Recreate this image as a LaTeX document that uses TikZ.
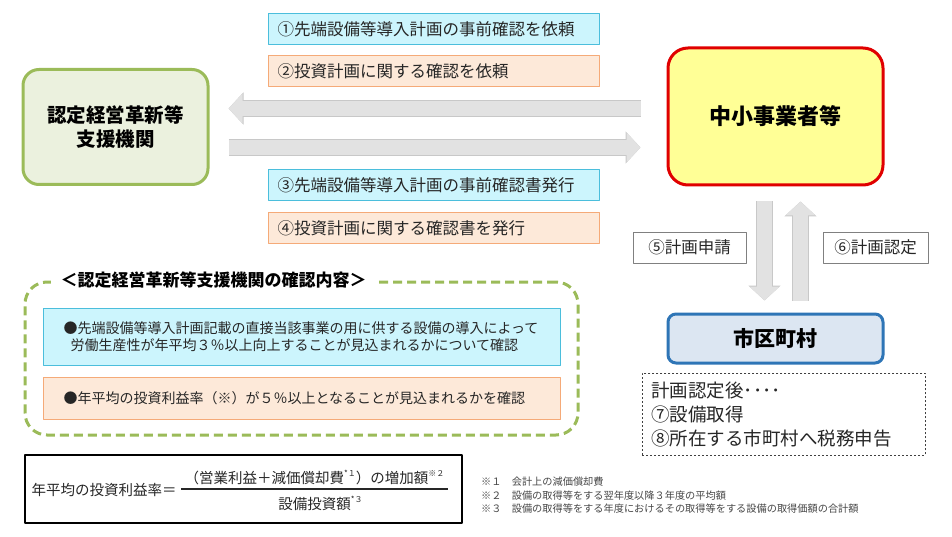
\documentclass[tikz,border=0pt]{standalone}
\usepackage{fontspec}
\setmainfont{Noto Sans CJK JP}
\usetikzlibrary{arrows.meta}
\usetikzlibrary{positioning}
\usetikzlibrary{calc}
\definecolor{agentgreen}{RGB}{155,187,89}
\definecolor{agentfill}{RGB}{235,241,222}
\definecolor{smered}{RGB}{224,0,0}
\definecolor{smefill}{RGB}{255,255,150}
\definecolor{cyanfill}{RGB}{204,245,253}
\definecolor{cyanline}{RGB}{75,190,220}
\definecolor{peachfill}{RGB}{253,233,217}
\definecolor{peachline}{RGB}{245,170,120}
\definecolor{arrowgray}{RGB}{226,226,226}
\definecolor{arrowedge}{RGB}{200,200,200}
\definecolor{cityfill}{RGB}{220,230,242}
\definecolor{cityline}{RGB}{46,117,182}
\definecolor{textgray}{RGB}{38,38,38}
\definecolor{notegray}{RGB}{70,70,70}
\newcommand\noteup[1]{\raisebox{0.45em}{\fontsize{8}{8}\selectfont #1}}

\begin{document}
\begin{tikzpicture}[x=1pt,y=-1pt,line join=round,
  party/.style={rounded corners=16pt,line width=3pt,align=center,inner sep=0pt,
    font=\fontsize{19.5}{24}\selectfont\bfseries},
  stepnote/.style={anchor=west,text width=313pt,inner xsep=9pt,inner ysep=0pt,
    minimum height=31pt,align=left,line width=1pt,text=textgray,
    font=\fontsize{16.5}{18}\selectfont},
  bluenote/.style={stepnote,draw=cyanline,fill=cyanfill},
  orangenote/.style={stepnote,draw=peachline,fill=peachfill},
  plainnote/.style={draw=gray,line width=0.8pt,minimum height=31pt,inner xsep=6pt,
    text=textgray,font=\fontsize{16.5}{18}\selectfont},
  checkitem/.style={anchor=north west,line width=1pt,minimum width=517pt,text width=477pt,
    inner xsep=20pt,align=left,text=textgray,font=\fontsize{14}{17}\selectfont},
  blockarrow/.style={arrowgray,line width=15pt,-{Triangle[length=14pt,width=29pt]},
    preaction={draw=arrowedge,line width=16.5pt,-{Triangle[length=15pt,width=31.5pt]}}}]
\useasboundingbox (0,0) rectangle (952,537);

% the two parties and the city
\node[party,draw=agentgreen,fill=agentfill,minimum width=185pt,minimum height=115pt] (agent) at (115.5,127) {認定経営革新等\\支援機関};
\node[party,draw=smered,fill=smefill,rounded corners=20pt,minimum width=215pt,minimum height=137pt,
  font=\fontsize{22}{24}\selectfont\bfseries] (sme) at (775.5,116.5) {中小事業者等};
\node[party,draw=cityline,fill=cityfill,rounded corners=8pt,minimum width=215pt,minimum height=49pt,
  font=\fontsize{21}{24}\selectfont\bfseries] (city) at (775.5,338.5) {市区町村};

% requests and answers
\node[bluenote] (req1) at (268,29.5) {①先端設備等導入計画の事前確認を依頼};
\node[orangenote,below=10pt of req1] (req2) {②投資計画に関する確認を依頼};
\node[bluenote] (iss3) at (268,185) {③先端設備等導入計画の事前確認書発行};
\node[orangenote,below=11pt of iss3] (iss4) {④投資計画に関する確認書を発行};

\draw[blockarrow] ($(sme.west |- 0,108.5)+(-26pt,0pt)$) -- ($(agent.east |- 0,108.5)+(19pt,0pt)$);
\draw[blockarrow] ($(agent.east |- 0,147.5)+(19pt,0pt)$) -- ($(sme.west |- 0,147.5)+(-26pt,0pt)$);

% plan application
\draw[blockarrow] ($(sme.south -| 764.5,0)+(0pt,-15pt)$) -- ($(city.north -| 764.5,0)+(0pt,12pt)$);
\draw[blockarrow] ($(city.north -| 800.5,0)+(0pt,12pt)$) -- ($(sme.south -| 800.5,0)+(0pt,-15pt)$);
\node[plainnote,minimum width=113pt] (apply) at (689.5,247.5) {⑤計画申請};
\node[plainnote,minimum width=105pt] (approve) at (875.5,247.5) {⑥計画認定};

\node[draw=darkgray,dash pattern=on 2pt off 2pt,line width=0.8pt,anchor=north west,text width=265pt,
  inner xsep=9pt,inner ysep=5pt,minimum height=82pt,align=left,text=textgray,
  font=\fontsize{18.5}{24}\selectfont] (after) at (642,373) {計画認定後････\\⑦設備取得\\⑧所在する市町村へ税務申告};

% what the agent checks
\node[draw=agentgreen,line width=3pt,dash pattern=on 9pt off 5pt,rounded corners=22pt,
  minimum width=553pt,minimum height=153pt] (checks) at (301.5,358.5) {};
\node[fill=white,inner xsep=10pt,inner ysep=2pt,anchor=west,font=\fontsize{17}{20}\selectfont\bfseries]
  (checkstitle) at ([xshift=27pt]checks.north west) {＜認定経営革新等支援機関の確認内容＞};
\node[checkitem,draw=cyanline,fill=cyanfill,minimum height=57pt] (check1) at (43,308)
  {●先端設備等導入計画記載の直接当該事業の用に供する設備の導入によって\\\hspace*{0.5em}労働生産性が年平均３％以上向上することが見込まれるかについて確認};
\node[checkitem,draw=peachline,fill=peachfill,minimum height=42pt] (check2) at (43,377)
  {●年平均の投資利益率（※）が５％以上となることが見込まれるかを確認};

% formula
\node[draw=black,line width=1.8pt,minimum width=437pt,minimum height=68pt] (formula) at (243.5,489) {};
\node[anchor=west,text=textgray,font=\fontsize{14.5}{16}\selectfont] (ratio) at (28,490) {年平均の投資利益率＝};
\node[anchor=south,minimum width=265pt,inner ysep=4pt,text=textgray,font=\fontsize{14.5}{16}\selectfont]
  (numer) at (314.5,489) {（営業利益＋減価償却費\noteup{*１}）の増加額\noteup{※２}};
\node[below=3pt of numer,xshift=6pt,inner ysep=4pt,text=textgray,font=\fontsize{14.5}{16}\selectfont]
  (denom) {設備投資額\noteup{*３}};
\draw[line width=1.2pt,textgray] (numer.south west) -- (numer.south east);

\node[anchor=north west,align=left,inner sep=0pt,text=notegray,font=\fontsize{10.2}{13.5}\selectfont]
  (notes) at (481,477) {※１　会計上の減価償却費\\※２　設備の取得等をする翌年度以降３年度の平均額\\※３　設備の取得等をする年度におけるその取得等をする設備の取得価額の合計額};
\end{tikzpicture}
\end{document}
